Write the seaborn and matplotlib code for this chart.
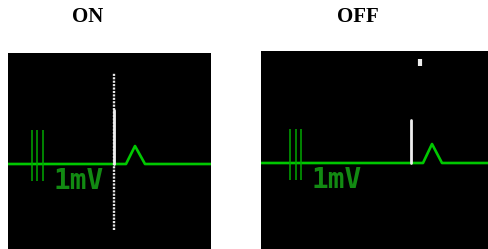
import numpy as np
import pandas as pd
import matplotlib.pyplot as plt
import seaborn as sns

# ECG trace for each panel (sample index, amplitude in px-units above baseline)
on_t = [0, 106, 118, 127, 137, 203]
on_v = [0, 0, 0, 18, 0, 0]
off_t = [0, 150, 162, 171, 181, 228]
off_v = [0, 0, 0, 19, 0, 0]

# 1 mV calibration bars (x positions, bottom, top)
on_bars = [24, 29, 35]
off_bars = [29, 35, 40]
bar_lo, bar_hi = -17, 34

# pacing spike (x, height)
on_spike = (106, 54)
off_spike = (150, 43)
# ON: dotted marker line (bottom, top)
on_marker = (-66, 91)
# OFF: small marker dot (x, bottom, top)
off_dot = (159, 97, 104)

titles = ["ON", "OFF"]
label = "1mV"

W, H = 489, 249
sns.set_style("white")
fig = plt.figure(figsize=(W / 100, H / 100), dpi=100)
fig.patch.set_facecolor("white")

trace_green = "#00c800"
bar_green = "#00a800"
text_green = "#128a12"


def panel(rect, width, top, bottom, t, v, bars, text_x):
    ax = fig.add_axes(rect)
    ax.set_facecolor("black")
    df = pd.DataFrame({"t": t, "v": v})
    sns.lineplot(data=df, x="t", y="v", ax=ax, color=trace_green,
                 linewidth=1.9, estimator=None, sort=False)
    ax.vlines(bars, bar_lo, bar_hi, color=bar_green, linewidth=1.1)
    ax.text(text_x, -31, label, color=text_green, fontsize=20,
            fontweight="bold", family="DejaVu Sans Mono",
            ha="left", va="bottom")
    ax.set_xlim(0, width)
    ax.set_ylim(bottom, top)
    ax.set_xlabel("")
    ax.set_ylabel("")
    ax.set_xticks([])
    ax.set_yticks([])
    for s in ax.spines.values():
        s.set_visible(False)
    return ax


ax1 = panel([8 / W, 0, 203 / W, 196 / H], 203, 111, -85,
            on_t, on_v, on_bars, 46)
ax1.plot([on_spike[0]] * 2, on_marker, color="#e8e8e8", linewidth=1.7,
         dashes=(0.9, 0.55), zorder=3)
ax1.plot([on_spike[0]] * 2, [0, on_spike[1]], color="#eeeeee",
         linewidth=2.0, zorder=4)

ax2 = panel([261 / W, 0, 228 / W, 198 / H], 228, 112, -86,
            off_t, off_v, off_bars, 50)
ax2.plot([off_spike[0]] * 2, [0, off_spike[1]], color="#eeeeee",
         linewidth=2.0, zorder=4)
ax2.plot([off_dot[0]] * 2, off_dot[1:], color="#eeeeee",
         linewidth=3.0, solid_capstyle="butt", zorder=4)

for x, title in zip([88, 358], titles):
    fig.text(x / W, 1 - 17 / H, title, ha="center", va="center",
             fontsize=15, fontweight="bold", family="Liberation Serif",
             color="black")

fig.savefig("out.png", dpi=100)
